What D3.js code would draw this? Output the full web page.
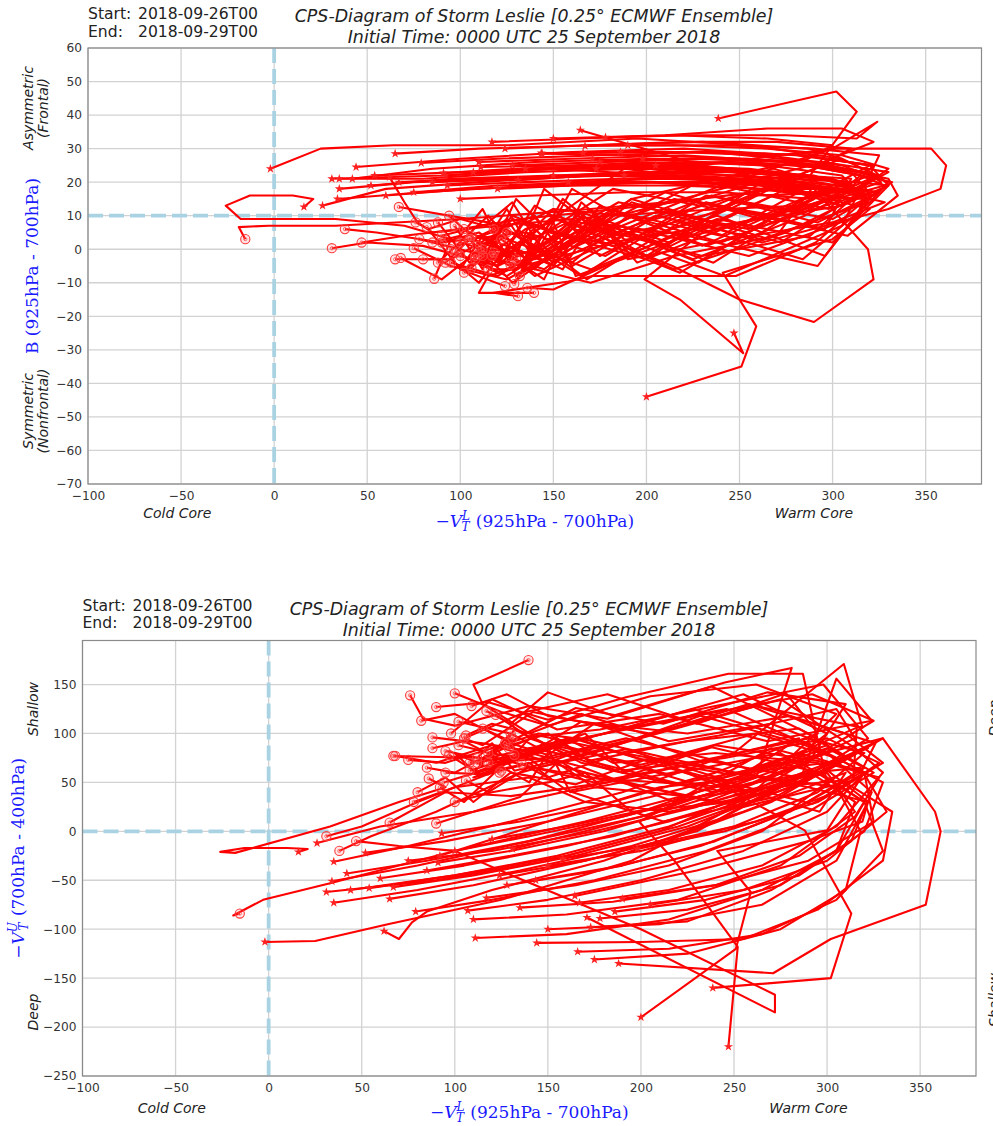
<!DOCTYPE html>
<html><head><meta charset="utf-8">
<script src="https://cdn.jsdelivr.net/npm/d3@7"></script>
<style>body{margin:0;background:#fff}svg{display:block}</style>
</head><body>
<svg id="c" width="993" height="1126"></svg>
<script>
// ---------------- data ----------------
const startLabel = "2018-09-26T00";
const endLabel = "2018-09-29T00";
const titleLine1 = "CPS-Diagram of Storm Leslie [0.25\u00B0 ECMWF Ensemble]";
const titleLine2 = "Initial Time: 0000 UTC 25 September 2018";
const xTicks = [-100, -50, 0, 50, 100, 150, 200, 250, 300, 350];
const bTicks = [60, 50, 40, 30, 20, 10, 0, -10, -20, -30, -40, -50, -60, -70];
const vtuTicks = [150, 100, 50, 0, -50, -100, -150, -200, -250];
const xDomain = [-100, 380];
const bDomain = [-70, 60];
const vtuDomain = [-250, 195];
// each ensemble member: [ -VTL, B, -VTU ] at successive times (first = start, last = end)
const members = [
 [[-2,24,-113],[25,30,-112],[64,31,-95],[125,31,-70],[195,33,-30],[255,31,30],[305,27,120],[262,18,150],[205,9,138],[150,12,108],[125,-2,122],[100,2,141]],
 [[16,12.6,-21],[21,15,-18],[10,16,-17],[-13,16,-17],[-26,13,-21],[-18,9,-22],[33,9,5],[70,7,30],[95,3,45],[86,-8.8,54]],
 [[26,13,-12],[60,18,5],[110,20,20],[170,22,45],[230,21,70],[285,18,95],[240,4,40],[185,11,62],[160,2,78],[140,-3,85],[125,9,70],[118,6,58],[95,0,60]],
 [[31,21,-62],[90,22,-50],[150,24,-30],[210,25,0],[270,22,50],[325,17,113],[292,8,140],[235,16,120],[170,2,96],[128,9,70],[105,-4,92],[88,8,85]],
 [[34,15,-51],[80,17,-35],[140,19,-10],[200,20,20],[260,18,60],[316,15,106],[314,10,52],[255,-2,25],[195,6,48],[140,-8,66],[118,2,40],[106,-5.6,52]],
 [[35,18,-31],[75,20,-15],[130,21,10],[190,23,40],[250,22,80],[309,20,171],[319,14,106],[262,3,128],[205,10,100],[150,-4,118],[128,5,140],[109,1,128]],
 [[35,21,-73],[80,21,-60],[135,23,-40],[195,24,-15],[255,23,20],[310,21,60],[296,6,20],[232,14,55],[175,-2,88],[150,12,70],[132,7,62],[120,-5,90],[112,-2,75]],
 [[42,21,-43],[85,24,-30],[140,26,-10],[200,27,15],[262,25,55],[281,22,167],[245,12,152],[185,4,118],[150,9,142],[130,-6,110],[117,-2,123]],
 [[44,24.5,-60],[100,27,-45],[160,29,-25],[220,30,5],[280,28,45],[322,25,95],[298,12,150],[240,19,128],[178,5,104],[140,-5,96],[122,3,119]],
 [[54,22,-58],[100,23,-45],[155,24,-25],[215,24,5],[275,22,45],[330,19,95],[300,2,62],[238,9,30],[170,-6,60],[120,4,88],[90,-9,70],[68,-2.6,77]],
 [[62,21.5,-102],[70,14,-110],[77,8,-93],[85,5,-82],[120,7,-60],[180,10,-30],[240,12,10],[285,13,55],[236,-4,72],[175,8,50],[128,-10,72],[105,3,30],[92,-4,45]],
 [[65,28.5,-69],[110,30,-55],[170,31,-30],[230,32,0],[287,30,60],[305,27,156],[324,22,113],[268,8,92],[210,17,120],[155,1,104],[120,-7,135],[98,-1,100]],
 [[67,20,-57],[110,21,-45],[165,22,-25],[225,22,5],[280,20,45],[315,17,80],[272,2,35],[212,12,10],[160,-5,42],[140,10,70],[112,4,58],[100,-6,80],[124,-11,60]],
 [[79,25.7,-82],[120,27,-70],[175,28,-50],[235,29,-20],[290,26,20],[325,22,60],[285,10,105],[225,-3,92],[172,9,72],[155,-6,95],[140,-2,50],[125,12,66],[118,6,80]],
 [[91,22.7,-32],[130,24,-20],[180,25,0],[235,24,30],[290,22,70],[310,18,130],[268,16,142],[212,2,110],[165,11,126],[130,-6,92],[115,-6,105]],
 [[93,19,-2],[135,20,10],[185,21,30],[240,21,60],[295,18,100],[278,13,141],[230,1,110],[182,12,140],[138,-3,122],[105,3,95]],
 [[107,23,-81],[150,24,-70],[200,25,-50],[255,24,-20],[300,21,20],[320,16,60],[292,-5,28],[222,4,62],[162,-8,40],[150,8,85],[135,6,75],[110,-4,55],[125,5,62]],
 [[111,24.5,-109],[160,25,-105],[215,26,-90],[265,25,-60],[305,22,-20],[315,16,30],[275,5,80],[215,-6,58],[158,8,88],[118,-2,64],[94,10,50]],
 [[117,32,-68],[165,33,-55],[215,34,-35],[265,33,0],[300,31,50],[287,27,161],[247,22,161],[192,15,137],[150,-2,114],[118,8,132],[90,4,127]],
 [[131,20.6,-18],[170,22,0],[220,23,25],[270,21,55],[315,18,95],[305,7,125],[242,-8,98],[188,3,80],[165,14,95],[145,-9,100],[115,2,82],[102,-7,88]],
 [[144,28.5,-114],[200,28,-113],[255,27,-110],[295,25,-80],[330,21,-30],[335,16,20],[308,4,52],[244,12,40],[182,-4,75],[150,-12,55],[136,-11.5,69]],
 [[164.5,35.5,-66],[230,25,-40],[290,18,-10],[319,0,10],[322,-9,30],[290,-21.7,45],[250,-15,60],[214,-5,75],[165,6,96],[125,-8,78],[108,-3,70]],
 [[166,28.7,-123],[215,29,-120],[265,28,-105],[305,25,-70],[330,20,-20],[320,14,30],[284,-3,72],[218,8,48],[168,-9,70],[142,2,96],[129,-10.4,85]],
 [[167,30.8,-73],[215,31,-60],[265,30,-35],[305,28,5],[330,24,60],[315,18,85],[275,18,135],[213,1,102],[163,10,76],[132,-4,104],[127,-4.6,90]],
 [[171,27,-88],[272,22,-185],[272,18,-167],[200,13,-100],[133,9,-47],[100,6,-20],[70,4,-15],[47,2,-10]],
 [[173,24,-98],[225,25,-92],[270,23,-60],[305,20,-20],[320,15,30],[296,-2,60],[238,10,86],[182,1,50],[130,8,36],[95,-3,40],[65,-3,9]],
 [[175,26,-131],[225,27,-125],[275,26,-100],[310,23,-60],[318,18,0],[305,13,45],[250,8,60],[190,3,80],[140,-4,100],[115,-8,130],[110,-13,150],[139.6,-13,175]],
 [[178,33.4,-89],[225,34,-80],[275,34,-55],[313,33,-10],[324,38,40],[300,30,80],[246,20,125],[188,24,104],[142,6,122],[115,-4,88],[105,3,95]],
 [[186,29,-82],[235,29,-70],[285,28,-45],[320,25,0],[330,19,50],[305,13,75],[262,20,100],[200,-3,68],[148,5,90],[130,15,70],[112,-6,60],[97,7,78]],
 [[188,22,-135],[271,28,-145],[302,30,-110],[353,30,-75],[361,25,0],[358,18,20],[330,12,95],[262,2,62],[192,14,95],[145,-6,74],[118,-1,70]],
 [[190,31,-69],[240,31,-55],[290,30,-30],[325,28,10],[320,22,60],[285,15,80],[228,-4,45],[172,9,72],[150,-2,100],[130,-8,88],[112,12,72],[100,4,60],[85,2,65]],
 [[198,27,-18],[245,27,0],[295,26,30],[330,23,70],[310,17,100],[258,16,130],[200,3,96],[150,10,74],[120,-5,60],[80,1,30],[50,2,5],[31,0.3,-5]],
 [[200,-44,-190],[251,-35,-120],[259,-23,-62],[241,-7,-20],[300,3,1],[320,12,60],[290,16,90],[228,20,125],[165,2,92],[128,10,74],[108,-2,62]],
 [[238.6,39,-160],[302,47,-150],[313,41,-84],[288,22,1],[250,16,40],[205,6,75],[165,-8,48],[130,4,60],[110,-10,30],[95,-3,55],[80,-3,40]],
 [[247,-25,-220],[252,-31,-118],[218,-15,-30],[199,-9,10],[230,5,40],[280,12,70],[300,18,100],[255,6,140],[185,14,102],[138,-1,80],[112,0,70]],
 [[124,30,-45],[170,31,-30],[220,32,-5],[270,32,30],[310,30,75],[290,24,100],[238,12,148],[182,18,115],[140,3,128],[100,9,108],[83,6,115],[76,8,139]],
 [[143.5,28.7,-50],[190,29,-35],[240,29,-10],[285,28,25],[320,25,65],[300,19,85],[246,6,52],[192,15,84],[146,-2,66],[128,14,90],[115,8,75],[67,12.6,77]],
 [[120,18,-8],[160,19,5],[210,20,25],[260,19,50],[300,16,80],[285,11,90],[232,16,118],[178,-2,82],[135,5,60],[90,2,20],[55,5,-5],[38,6,-20]],
 [[100,15,-20],[140,16,-5],[190,17,15],[240,17,40],[290,15,75],[270,10,85],[218,-7,30],[168,4,66],[125,-9,88],[95,-5,70],[75,0.3,73]],
 [[150,22,-35],[200,23,-20],[250,23,5],[295,21,40],[320,17,80],[290,12,95],[232,1,72],[175,13,110],[150,-5,78],[130,0,90],[100,-6,120],[82,6.6,113]],
 [[92,22,-25],[150,24,10],[210,22,45],[260,20,55],[230,15,40],[170,12,10],[100,9,-20],[33,7,-53],[-3,7,-70],[-19,6.6,-86],[-15.5,3,-84]],
 [[110,26,-90],[160,27,-85],[220,28,-70],[275,26,-35],[315,22,20],[300,15,60],[250,8,30],[195,-4,20],[170,12,60],[150,3,50],[120,-5,40],[100,-2,30]],
 [[150,33,-100],[210,34,-95],[265,36,-75],[305,36,-30],[322,32,30],[295,26,70],[240,18,80],[185,10,70],[160,18,95],[140,-2,80],[110,4,60],[130,-3,100]],
 [[85,20,-40],[130,21,-25],[185,22,-5],[240,21,25],[290,19,60],[270,4,40],[215,-2,20],[170,-10,30],[140,-6,55],[100,0,45],[78,3,30]],
 [[205,25,-75],[255,26,-60],[300,24,-30],[332,20,20],[318,15,65],[291,2,60],[248,-8,45],[171,-8,55],[158,-9.6,70],[118,-13,80],[131,-14,95]],
 [[60,16,-48],[105,18,-35],[160,19,-15],[215,19,10],[265,18,40],[310,15,75],[288,4,50],[230,-2,35],[175,6,45],[155,15,70],[135,-5,35],[110,5,20],[90,2,8]],
 [[128,25,-55],[178,26,-40],[232,27,-15],[280,26,20],[318,23,60],[326,20,90],[280,12,118],[225,4,100],[168,8,112],[145,18,85],[130,-2,100],[102,6,112]],
 [[158,20,-28],[210,21,-12],[262,20,10],[305,17,40],[328,14,70],[300,8,95],[245,3,75],[190,-3,62],[170,12,100],[150,2,85],[120,-8,72],[95,-4,82]],
 [[52,19,-22],[95,21,-10],[150,22,10],[205,22,35],[255,21,60],[300,18,88],[270,10,110],[215,15,92],[168,4,120],[140,13,100],[120,-4,110],[106,4,98]],
 [[135,24,-78],[185,25,-72],[240,26,-55],[285,25,-25],[315,22,15],[328,19,55],[295,14,72],[240,2,88],[190,10,60],[160,-4,82],[140,6,95],[132,-8,78]],
 [[75,17,-30],[120,19,-20],[175,20,0],[230,20,25],[280,19,55],[322,16,85],[300,9,70],[248,14,58],[200,-2,74],[165,9,94],[140,-6,82],[115,10,90],[88,-4,96]]
];

// ---------------- drawing ----------------
const svg = d3.select("#c");
const defs = svg.append("defs");
const SANS = "DejaVu Sans, sans-serif";
const SERIF = "DejaVu Serif, serif";

const panels = [
  { id: 1, key: 1, left: 88, top: 48, right: 981.5, bottom: 484, yDomain: bDomain, yTicks: bTicks, refY: 10,
    infoY: [19, 36.5], titleY: [21.7, 42.7], titleX: 534,
    ylab: { x: 38, sup: null, text: "B (925hPa - 700hPa)" },
    upper: { y: 108, lines: ["Asymmetric", "(Frontal)"] }, lower: { y: 411, lines: ["Symmetric", "(Nonfrontal)"] },
    xlabY: 527, coreY: 518, rightLabels: null },
  { id: 2, key: 2, left: 82.5, top: 640.5, right: 976, bottom: 1076, yDomain: vtuDomain, yTicks: vtuTicks, refY: 0,
    infoY: [611, 628], titleY: [614.5, 635.5], titleX: 529,
    ylab: { x: 24, sup: "U", text: " (700hPa - 400hPa)" },
    upper: { y: 709, lines: ["Shallow"] }, lower: { y: 1012, lines: ["Deep"] },
    xlabY: 1118, coreY: 1113, rightLabels: [{ y: 718, t: "Deep" }, { y: 1000, t: "Shallow" }] }
];

function vtLabel(textSel, sup, rest) {
  textSel.append("tspan").text("\u2212");
  textSel.append("tspan").attr("font-style", "italic").text("V");
  textSel.append("tspan").attr("font-style", "italic").attr("font-size", 12).attr("dy", -7).text(sup);
  textSel.append("tspan").attr("font-style", "italic").attr("font-size", 12).attr("dx", sup === "U" ? -8.5 : -7.5).attr("dy", 11).text("T");
  textSel.append("tspan").attr("dy", -4).attr("dx", 1).text(rest);
}

panels.forEach(p => {
  const x = d3.scaleLinear().domain(xDomain).range([p.left, p.right]);
  const y = d3.scaleLinear().domain(p.yDomain).range([p.bottom, p.top]);
  const g = svg.append("g");

  // grid
  g.append("g").selectAll("line").data(xTicks).join("line")
    .attr("x1", d => x(d)).attr("x2", d => x(d)).attr("y1", p.top).attr("y2", p.bottom)
    .attr("stroke", "#d2d2d2").attr("stroke-width", 1.3);
  g.append("g").selectAll("line").data(p.yTicks).join("line")
    .attr("y1", d => y(d)).attr("y2", d => y(d)).attr("x1", p.left).attr("x2", p.right)
    .attr("stroke", "#d2d2d2").attr("stroke-width", 1.3);

  // clip
  const cid = "clip" + p.id;
  defs.append("clipPath").attr("id", cid).append("rect")
    .attr("x", p.left).attr("y", p.top).attr("width", p.right - p.left).attr("height", p.bottom - p.top);

  // reference dashed lines
  const ref = g.append("g").attr("clip-path", `url(#${cid})`);
  ref.append("line").attr("x1", x(0)).attr("x2", x(0)).attr("y1", p.top).attr("y2", p.bottom)
    .attr("stroke", "#a9d3e3").attr("stroke-width", 3.8).attr("stroke-dasharray", "15,6");
  ref.append("line").attr("y1", y(p.refY)).attr("y2", y(p.refY)).attr("x1", p.left).attr("x2", p.right)
    .attr("stroke", "#a9d3e3").attr("stroke-width", 3.8).attr("stroke-dasharray", "15,6");

  // tracks
  const line = d3.line().x(d => x(d[0])).y(d => y(d[p.key]));
  const tg = g.append("g").attr("clip-path", `url(#${cid})`);
  tg.selectAll("path.trk").data(members).join("path").attr("class", "trk")
    .attr("d", line).attr("fill", "none").attr("stroke", "#ff0000").attr("stroke-width", 2.1)
    .attr("stroke-linejoin", "round");
  const star = d3.symbol().type(d3.symbolStar).size(26);
  tg.selectAll("path.st").data(members).join("path").attr("class", "st")
    .attr("d", star).attr("transform", d => `translate(${x(d[0][0])},${y(d[0][p.key])})`)
    .attr("fill", "#ff2020");
  tg.selectAll("circle.en").data(members).join("circle").attr("class", "en")
    .attr("cx", d => x(d[d.length - 1][0])).attr("cy", d => y(d[d.length - 1][p.key]))
    .attr("r", 4.6).attr("fill", "rgba(255,80,80,0.15)").attr("stroke", "#ff3b3b").attr("stroke-width", 1.1);
  tg.selectAll("circle.en2").data(members).join("circle").attr("class", "en2")
    .attr("cx", d => x(d[d.length - 1][0])).attr("cy", d => y(d[d.length - 1][p.key]))
    .attr("r", 1.6).attr("fill", "none").attr("stroke", "#ff5050").attr("stroke-width", 0.8);

  // frame
  g.append("rect").attr("x", p.left).attr("y", p.top).attr("width", p.right - p.left).attr("height", p.bottom - p.top)
    .attr("fill", "none").attr("stroke", "#8a8a8a").attr("stroke-width", 1.2);

  // axes
  const ax = g.append("g").attr("transform", `translate(0,${p.bottom})`)
    .call(d3.axisBottom(x).tickValues(xTicks).tickSize(0).tickPadding(7).tickFormat(d3.format("d")));
  const ay = g.append("g").attr("transform", `translate(${p.left},0)`)
    .call(d3.axisLeft(y).tickValues(p.yTicks).tickSize(0).tickPadding(6).tickFormat(d3.format("d")));
  [ax, ay].forEach(a => {
    a.select(".domain").remove();
    a.selectAll("text").attr("font-family", SANS).attr("font-size", 12.2).attr("fill", "#333");
  });

  // info text
  const info = g.append("g").attr("font-family", SANS).attr("font-size", 15.6).attr("fill", "#222");
  info.append("text").attr("x", p.left).attr("y", p.infoY[0]).text("Start:");
  info.append("text").attr("x", p.left + 50).attr("y", p.infoY[0]).text(startLabel);
  info.append("text").attr("x", p.left).attr("y", p.infoY[1]).text("End:");
  info.append("text").attr("x", p.left + 50).attr("y", p.infoY[1]).text(endLabel);

  // title
  const tt = g.append("g").attr("font-family", SANS).attr("font-size", 17.4).attr("font-style", "italic")
    .attr("fill", "#222").attr("text-anchor", "middle");
  tt.append("text").attr("x", p.titleX).attr("y", p.titleY[0]).text(titleLine1);
  tt.append("text").attr("x", p.titleX).attr("y", p.titleY[1]).text(titleLine2);

  // x label
  const cx = (p.left + p.right) / 2;
  const xl = g.append("text").attr("x", cx).attr("y", p.xlabY).attr("text-anchor", "middle")
    .attr("font-family", SERIF).attr("font-size", 17).attr("fill", "#1a1aff");
  vtLabel(xl, "L", " (925hPa - 700hPa)");

  // y label
  const cy = (p.top + p.bottom) / 2;
  const yl = g.append("text").attr("transform", `translate(${p.ylab.x},${cy}) rotate(-90)`)
    .attr("text-anchor", "middle").attr("font-family", SERIF).attr("font-size", 17).attr("fill", "#1a1aff");
  if (p.ylab.sup) vtLabel(yl, p.ylab.sup, p.ylab.text); else yl.text(p.ylab.text);

  // Cold / Warm core
  const cc = g.append("g").attr("font-family", SANS).attr("font-size", 14).attr("font-style", "italic")
    .attr("fill", "#222").attr("text-anchor", "middle");
  cc.append("text").attr("x", x(-52)).attr("y", p.coreY).text("Cold Core");
  cc.append("text").attr("x", x(290)).attr("y", p.coreY).text("Warm Core");

  // side labels
  [p.upper, p.lower].forEach(s => {
    const t = g.append("text").attr("transform", `translate(${s.lines.length > 1 ? 33 : 38},${s.y}) rotate(-90)`)
      .attr("text-anchor", "middle").attr("font-family", SANS).attr("font-size", 14).attr("font-style", "italic").attr("fill", "#222");
    s.lines.forEach((ln, i) => t.append("tspan").attr("x", 0).attr("dy", i === 0 ? 0 : 14.5).text(ln));
  });
  if (p.rightLabels) {
    p.rightLabels.forEach(s => {
      g.append("text").attr("transform", `translate(999,${s.y}) rotate(-90)`).attr("text-anchor", "middle")
        .attr("font-family", SANS).attr("font-size", 14).attr("font-style", "italic").attr("fill", "#222").text(s.t);
    });
  }
});
</script>
</body></html>
